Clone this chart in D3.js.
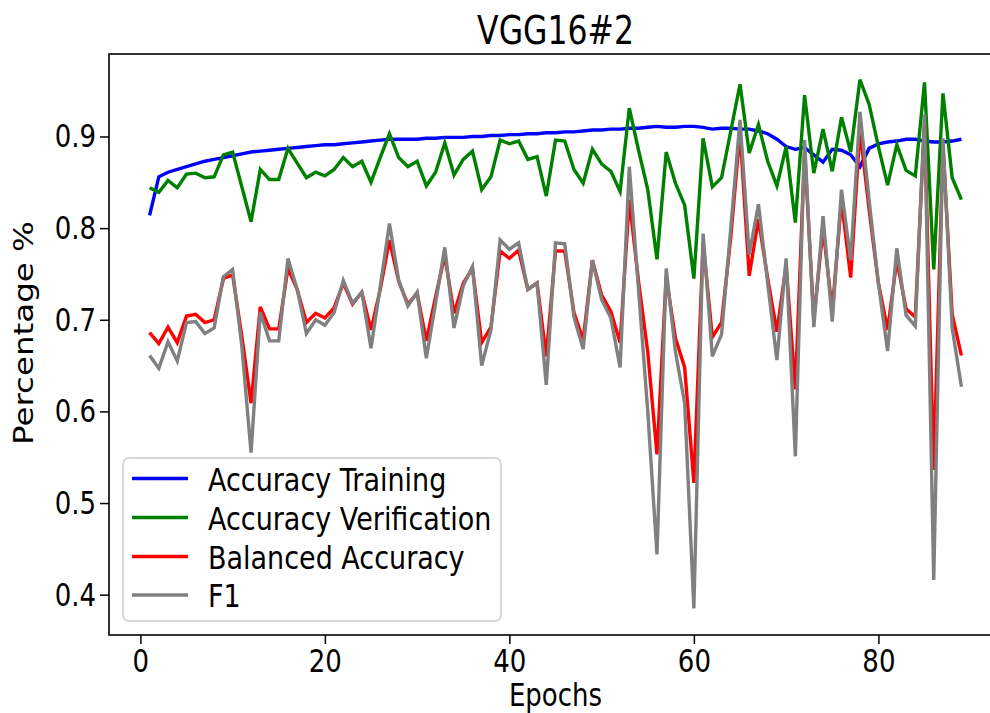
<!DOCTYPE html>
<html>
<head>
<meta charset="utf-8">
<script src="https://cdn.jsdelivr.net/npm/d3@7"></script>
<style>
  body { margin: 0; background: #fff; }
  svg { display: block; font-family: "DejaVu Sans", sans-serif; }
</style>
</head>
<body>
<div id="chart"></div>
<script>
const width = 990;
const height = 713;

// values, one per epoch (1..89)
const accTraining = [
  0.814, 0.856, 0.861, 0.864, 0.867, 0.870, 0.873, 0.875, 0.877, 0.879,
  0.881, 0.883, 0.884, 0.885, 0.886, 0.887, 0.888, 0.889, 0.890, 0.891,
  0.891, 0.892, 0.893, 0.894, 0.895, 0.896, 0.897, 0.897, 0.897, 0.897,
  0.898, 0.898, 0.899, 0.899, 0.899, 0.900, 0.900, 0.901, 0.901, 0.902,
  0.902, 0.903, 0.903, 0.904, 0.904, 0.905, 0.905, 0.906, 0.907, 0.907,
  0.908, 0.908, 0.909, 0.909, 0.910, 0.911, 0.910, 0.910, 0.911, 0.911,
  0.910, 0.908, 0.909, 0.909, 0.908, 0.908, 0.906, 0.903, 0.897, 0.889,
  0.886, 0.888, 0.880, 0.872, 0.886, 0.885, 0.880, 0.867, 0.887, 0.892,
  0.894, 0.895, 0.897, 0.897, 0.895, 0.894, 0.894, 0.895, 0.897
];

const accVerification = [
  0.844, 0.839, 0.852, 0.844, 0.859, 0.860, 0.855, 0.856, 0.880, 0.883,
  0.845, 0.807, 0.864, 0.853, 0.853, 0.887, 0.871, 0.855, 0.861, 0.857,
  0.864, 0.877, 0.867, 0.873, 0.850, 0.877, 0.903, 0.877, 0.867, 0.873,
  0.846, 0.861, 0.893, 0.858, 0.875, 0.884, 0.842, 0.856, 0.896, 0.892,
  0.895, 0.875, 0.878, 0.835, 0.896, 0.895, 0.864, 0.849, 0.886, 0.870,
  0.862, 0.840, 0.931, 0.885, 0.842, 0.766, 0.883, 0.849, 0.825, 0.745,
  0.898, 0.845, 0.855, 0.906, 0.957, 0.882, 0.913, 0.873, 0.846, 0.889,
  0.806, 0.945, 0.860, 0.908, 0.862, 0.921, 0.883, 0.962, 0.935, 0.889,
  0.847, 0.891, 0.863, 0.857, 0.959, 0.755, 0.947, 0.855, 0.831
];

const balancedAcc = [
  0.686, 0.674, 0.692, 0.675, 0.704, 0.706, 0.697, 0.700, 0.745, 0.749,
  0.682, 0.609, 0.714, 0.690, 0.690, 0.756, 0.733, 0.697, 0.707, 0.702,
  0.713, 0.740, 0.717, 0.730, 0.689, 0.733, 0.787, 0.742, 0.717, 0.729,
  0.677, 0.725, 0.770, 0.707, 0.740, 0.756, 0.675, 0.692, 0.775, 0.767,
  0.776, 0.733, 0.740, 0.660, 0.775, 0.775, 0.708, 0.678, 0.765, 0.727,
  0.709, 0.675, 0.831, 0.742, 0.665, 0.553, 0.747, 0.680, 0.648, 0.522,
  0.785, 0.681, 0.697, 0.790, 0.905, 0.748, 0.810, 0.745, 0.687, 0.760,
  0.624, 0.885, 0.700, 0.800, 0.710, 0.830, 0.746, 0.907, 0.820, 0.740,
  0.689, 0.765, 0.712, 0.703, 0.915, 0.536, 0.890, 0.706, 0.661
];

const f1 = [
  0.661, 0.647, 0.676, 0.655, 0.697, 0.698, 0.685, 0.691, 0.747, 0.755,
  0.671, 0.555, 0.708, 0.677, 0.677, 0.767, 0.733, 0.685, 0.700, 0.694,
  0.708, 0.743, 0.718, 0.730, 0.669, 0.736, 0.805, 0.743, 0.715, 0.730,
  0.658, 0.718, 0.779, 0.691, 0.737, 0.758, 0.650, 0.689, 0.787, 0.777,
  0.784, 0.733, 0.740, 0.629, 0.784, 0.783, 0.703, 0.668, 0.765, 0.722,
  0.702, 0.648, 0.867, 0.733, 0.600, 0.444, 0.756, 0.665, 0.609, 0.385,
  0.794, 0.660, 0.684, 0.800, 0.918, 0.771, 0.826, 0.740, 0.656, 0.767,
  0.551, 0.896, 0.692, 0.813, 0.698, 0.842, 0.765, 0.927, 0.830, 0.740,
  0.666, 0.778, 0.705, 0.693, 0.924, 0.416, 0.898, 0.691, 0.627
];

const seriesNames = ["Accuracy Training", "Accuracy Verification", "Balanced Accuracy", "F1"];
const seriesColors = ["#0000ff", "#008000", "#ff0000", "#808080"];
const xTicks = [0, 20, 40, 60, 80];
const yTicks = [0.4, 0.5, 0.6, 0.7, 0.8, 0.9];

const epochs = accTraining.map((d, i) => i + 1);
const allSeries = [accTraining, accVerification, balancedAcc, f1];

// the source image is stretched vertically, so text gets the same stretch
const stretch = 1.25;
const fs = 26;
const legendFs = 27;
const legendStretch = 1.2;

const plot = { left: 109, top: 54, right: 1002, bottom: 635 };

const x = d3.scaleLinear().domain([-3.4, 93.4]).range([plot.left, plot.right]);
const y = d3.scaleLinear().domain([0.356, 0.990]).range([plot.bottom, plot.top]);

const svg = d3.select("#chart")
  .append("svg")
  .attr("width", width)
  .attr("height", height)
  .style("background", "#ffffff");

svg.append("defs").append("clipPath")
  .attr("id", "plotClip")
  .append("rect")
  .attr("x", plot.left)
  .attr("y", plot.top)
  .attr("width", plot.right - plot.left)
  .attr("height", plot.bottom - plot.top);

// lines
const line = d3.line()
  .x((d, i) => x(epochs[i]))
  .y(d => y(d));

const lineGroup = svg.append("g").attr("clip-path", "url(#plotClip)");
allSeries.forEach((s, k) => {
  lineGroup.append("path")
    .datum(s)
    .attr("fill", "none")
    .attr("stroke", seriesColors[k])
    .attr("stroke-width", 3.4)
    .attr("stroke-linejoin", "miter")
    .attr("stroke-miterlimit", 4)
    .attr("d", line);
});

// axes
const xAxis = svg.append("g")
  .attr("transform", `translate(0, ${plot.bottom})`)
  .call(d3.axisBottom(x).tickValues(xTicks).tickSize(9).tickSizeOuter(0).tickFormat(d3.format("d")));

const yAxis = svg.append("g")
  .attr("transform", `translate(${plot.left}, 0)`)
  .call(d3.axisLeft(y).tickValues(yTicks).tickSize(9).tickSizeOuter(0).tickFormat(d3.format(".1f")));

[xAxis, yAxis].forEach(ax => {
  ax.select(".domain").remove();
  ax.selectAll(".tick line").attr("stroke", "#000").attr("stroke-width", 1.5);
  ax.selectAll(".tick text")
    .attr("fill", "#000")
    .style("font-family", '"DejaVu Sans", sans-serif')
    .style("font-size", fs + "px");
});

xAxis.selectAll(".tick text")
  .attr("y", 37 / stretch)
  .attr("dy", 0)
  .attr("transform", `scale(1, ${stretch})`);

yAxis.selectAll(".tick text")
  .attr("x", -13)
  .attr("dy", "0.32em")
  .attr("transform", `scale(1, ${stretch})`);

// spines (right one falls outside the picture)
svg.append("rect")
  .attr("x", plot.left)
  .attr("y", plot.top)
  .attr("width", plot.right - plot.left)
  .attr("height", plot.bottom - plot.top)
  .attr("fill", "none")
  .attr("stroke", "#000")
  .attr("stroke-width", 1.6);

// stretched text helper
function label(px, py, txt, size, anchor, rot) {
  const g = svg.append("g")
    .attr("transform", `translate(${px}, ${py}) scale(1, ${stretch})` + (rot ? ` rotate(${rot})` : ""));
  g.append("text")
    .attr("text-anchor", anchor)
    .style("font-size", size + "px")
    .attr("fill", "#000")
    .text(txt);
  return g;
}

label((plot.left + plot.right) / 2, 44, "VGG16#2", 31.5, "middle");
label((plot.left + plot.right) / 2, 706, "Epochs", fs, "middle");
label(33, 333, "Percentage %", fs, "middle", -90);

// legend
const legend = svg.append("g");
legend.append("rect")
  .attr("x", 123)
  .attr("y", 458)
  .attr("width", 378)
  .attr("height", 163)
  .attr("rx", 6)
  .attr("ry", 6)
  .attr("fill", "#ffffff")
  .attr("fill-opacity", 0.8)
  .attr("stroke", "#cccccc")
  .attr("stroke-width", 1.5);

const legendRowY = [478.5, 517.5, 556.5, 595];
seriesNames.forEach((name, i) => {
  legend.append("line")
    .attr("x1", 132)
    .attr("x2", 188)
    .attr("y1", legendRowY[i])
    .attr("y2", legendRowY[i])
    .attr("stroke", seriesColors[i])
    .attr("stroke-width", 3.4);
  const g = legend.append("g")
    .attr("transform", `translate(208, ${legendRowY[i] + 12}) scale(1, ${legendStretch})`);
  g.append("text")
    .style("font-size", legendFs + "px")
    .attr("fill", "#000")
    .text(name);
});
</script>
</body>
</html>
